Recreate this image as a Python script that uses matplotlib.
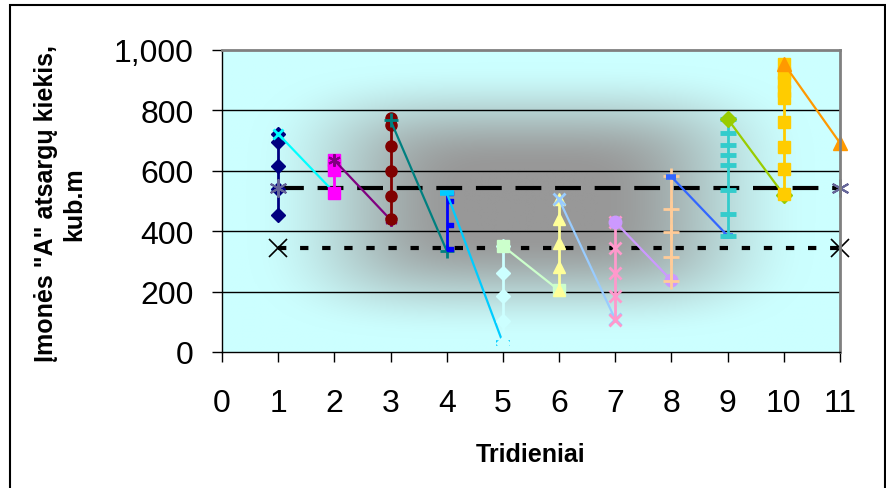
import numpy as np
import matplotlib
matplotlib.use("Agg")
import matplotlib.pyplot as plt
from matplotlib.path import Path
from matplotlib.markers import MarkerStyle
from matplotlib.ticker import FuncFormatter
from matplotlib.patches import Rectangle

plt.rcParams['font.family'] = ['Liberation Sans', 'DejaVu Sans']

# ---------------- data ----------------
x_ticks = list(range(0, 12))
y_ticks = [0, 200, 400, 600, 800, 1000]

# vertical series (values at one tridienis)
v1_vals = [722, 695, 615, 540, 455]                       # x=1 navy diamonds
v2_vals = [637, 620, 604, 528]                            # x=2 magenta squares
v3_vals = [775, 752, 681, 598, 516, 441]                  # x=3 dark red circles
v4_vals = [527, 500, 420, 342]                            # x=4 blue dashes
v5_vals = [351, 261, 186, 103, 30]                        # x=5 pale cyan diamonds
v6_vals = [505, 439, 362, 280, 205]                       # x=6 yellow triangles
v7_vals = [430, 345, 263, 186, 105]                       # x=7 pink crosses
v8_vals = [582, 472, 397, 315, 235]                       # x=8 peach plus
v9_vals = [772, 725, 686, 653, 620, 538, 458, 384]        # x=9 turquoise dashes
v10_vals = [955, 925, 893, 865, 840, 760, 680, 605, 524]  # x=10 gold squares

# connecting series (from tridienis k to k+1)
c1_vals = [722, 528]
c2_vals = [635, 438]
c3_vals = [767, 335]
c4_vals = [527, 30]
c5_vals = [351, 204]
c6_vals = [505, 108]
c7_vals = [430, 237]
c8_vals = [580, 385]
c9_vals = [772, 520]
c10_vals = [955, 692]

# reference levels
mean_x = [1, 11]
mean_vals = [542, 542]
low_vals = [344, 344]

# ---------------- figure ----------------
W, H = 886, 489
fig = plt.figure(figsize=(W / 100, H / 100), dpi=100)
ax = fig.add_axes([222 / W, 1 - 353 / H, (840 - 222) / W, (353 - 51) / H])

# "from center" gradient background
ny, nx = 300, 600
u = np.linspace(-1, 1, nx)[None, :]
v = np.linspace(-1, 1, ny)[:, None]
p = 4.0
r = (np.abs(u) ** p + np.abs(v) ** p) ** (1 / p)
t = np.clip((r - 0.22) / (0.92 - 0.22), 0, 1)
s = t * t * (3 - 2 * t)
cyan = np.array([204, 255, 255]) / 255
gray = np.array([152, 152, 152]) / 255
img = gray[None, None, :] * (1 - s[..., None]) + cyan[None, None, :] * s[..., None]
ax.imshow(img, extent=[0, 11, 0, 1000], aspect='auto', zorder=0, interpolation='bilinear')

ax.set_xlim(0, 11)
ax.set_ylim(0, 1000)

for yv in y_ticks[1:-1]:
    ax.axhline(yv, color='black', lw=1.0, zorder=1)

# custom right-offset short dash marker
dash_right = MarkerStyle(Path([(0, -0.28), (1, -0.28), (1, 0.28), (0, 0.28), (0, -0.28)],
                              [Path.MOVETO, Path.LINETO, Path.LINETO, Path.LINETO, Path.CLOSEPOLY]))
asterisk = (6, 2, 0)

def vert(xpos, vals, color, marker, ms=7, mew=1.0, lw=2.0, mfc=None):
    ax.plot([xpos] * len(vals), vals, color=color, lw=lw, marker=marker, ms=ms,
            mew=mew, mfc=mfc if mfc else color, mec=color, zorder=3, clip_on=False)

def conn(x0, vals, color, marker, ms=7, mew=1.0, lw=1.6):
    ax.plot([x0, x0 + 1], vals, color=color, lw=lw, marker=marker, ms=ms,
            mew=mew, mfc=color, mec=color, zorder=3, clip_on=False)

# reference lines
ax.plot(mean_x, mean_vals, color='black', lw=3.0, ls=(0, (6.2, 3.3)), zorder=2)
ax.plot(mean_x, mean_vals, ls='none', marker=asterisk, ms=13, mew=1.5,
        color='#666699', zorder=4, clip_on=False)
ax.plot(mean_x, low_vals, color='black', lw=3.0, ls=(0, (2.0, 3.3)), zorder=2)
ax.plot(mean_x, low_vals, ls='none', marker='x', ms=13, mew=1.2,
        color='black', zorder=4, clip_on=False)

vert(1, v1_vals, '#000080', 'D', ms=7)
conn(1, c1_vals, '#00FFFF', 'x', ms=7, mew=2)
vert(2, v2_vals, '#FF00FF', 's', ms=8)
conn(2, c2_vals, '#800080', asterisk, ms=9, mew=1.5)
vert(3, v3_vals, '#800000', 'o', ms=8)
conn(3, c3_vals, '#008080', '+', ms=10, mew=2)
vert(4, v4_vals, '#0000FF', dash_right, ms=8)
conn(4, c4_vals, '#00CCFF', '_', ms=10, mew=4)
vert(5, v5_vals, '#CCFFFF', 'D', ms=7)
conn(5, c5_vals, '#CCFFCC', 's', ms=8)
vert(6, v6_vals, '#FFFF99', '^', ms=8)
conn(6, c6_vals, '#99CCFF', 'x', ms=8, mew=2)
vert(7, v7_vals, '#FF99CC', 'x', ms=9, mew=2)
conn(7, c7_vals, '#CC99FF', 'o', ms=9)
vert(8, v8_vals, '#FFCC99', '+', ms=11, mew=2)
conn(8, c8_vals, '#3366FF', '_', ms=7, mew=4)
vert(9, v9_vals, '#33CCCC', '_', ms=11, mew=3.5)
conn(9, c9_vals, '#99CC00', 'D', ms=8)
vert(10, v10_vals, '#FFCC00', 's', ms=9)
conn(10, c10_vals, '#FF9900', '^', ms=10)

# axes styling
ax.set_xticks(x_ticks)
ax.set_yticks(y_ticks)
ax.yaxis.set_major_formatter(FuncFormatter(lambda val, pos: f"{val:,.0f}"))
ax.tick_params(axis='both', direction='out', length=7.2, width=1, color='black',
               labelsize=23, labelcolor='black')
ax.tick_params(axis='y', pad=13)
ax.tick_params(axis='x', pad=19)
for side in ['top', 'right']:
    ax.spines[side].set_color('#808080')
    ax.spines[side].set_linewidth(2)
for side in ['left', 'bottom']:
    ax.spines[side].set_color('black')
    ax.spines[side].set_linewidth(1)
for sp in ax.spines.values():
    sp.set_zorder(5)

# axis titles
fig.text(60 / W, 1 - 204 / H, 'Įmonės "A" atsargų kiekis,\nkub.m', rotation=90,
         ha='center', va='center', multialignment='center',
         fontsize=18, fontweight='bold')
fig.text(531 / W, 1 - 462 / H, 'Tridieniai', ha='center', va='baseline',
         fontsize=18, fontweight='bold')

# outer chart border
fig.patches.append(Rectangle((10 / W, -0.05), (885 - 10) / W, 1.05 - 6 / H,
                             transform=fig.transFigure, fill=False,
                             edgecolor='black', lw=1.5))

fig.savefig('out.png', dpi=100)
